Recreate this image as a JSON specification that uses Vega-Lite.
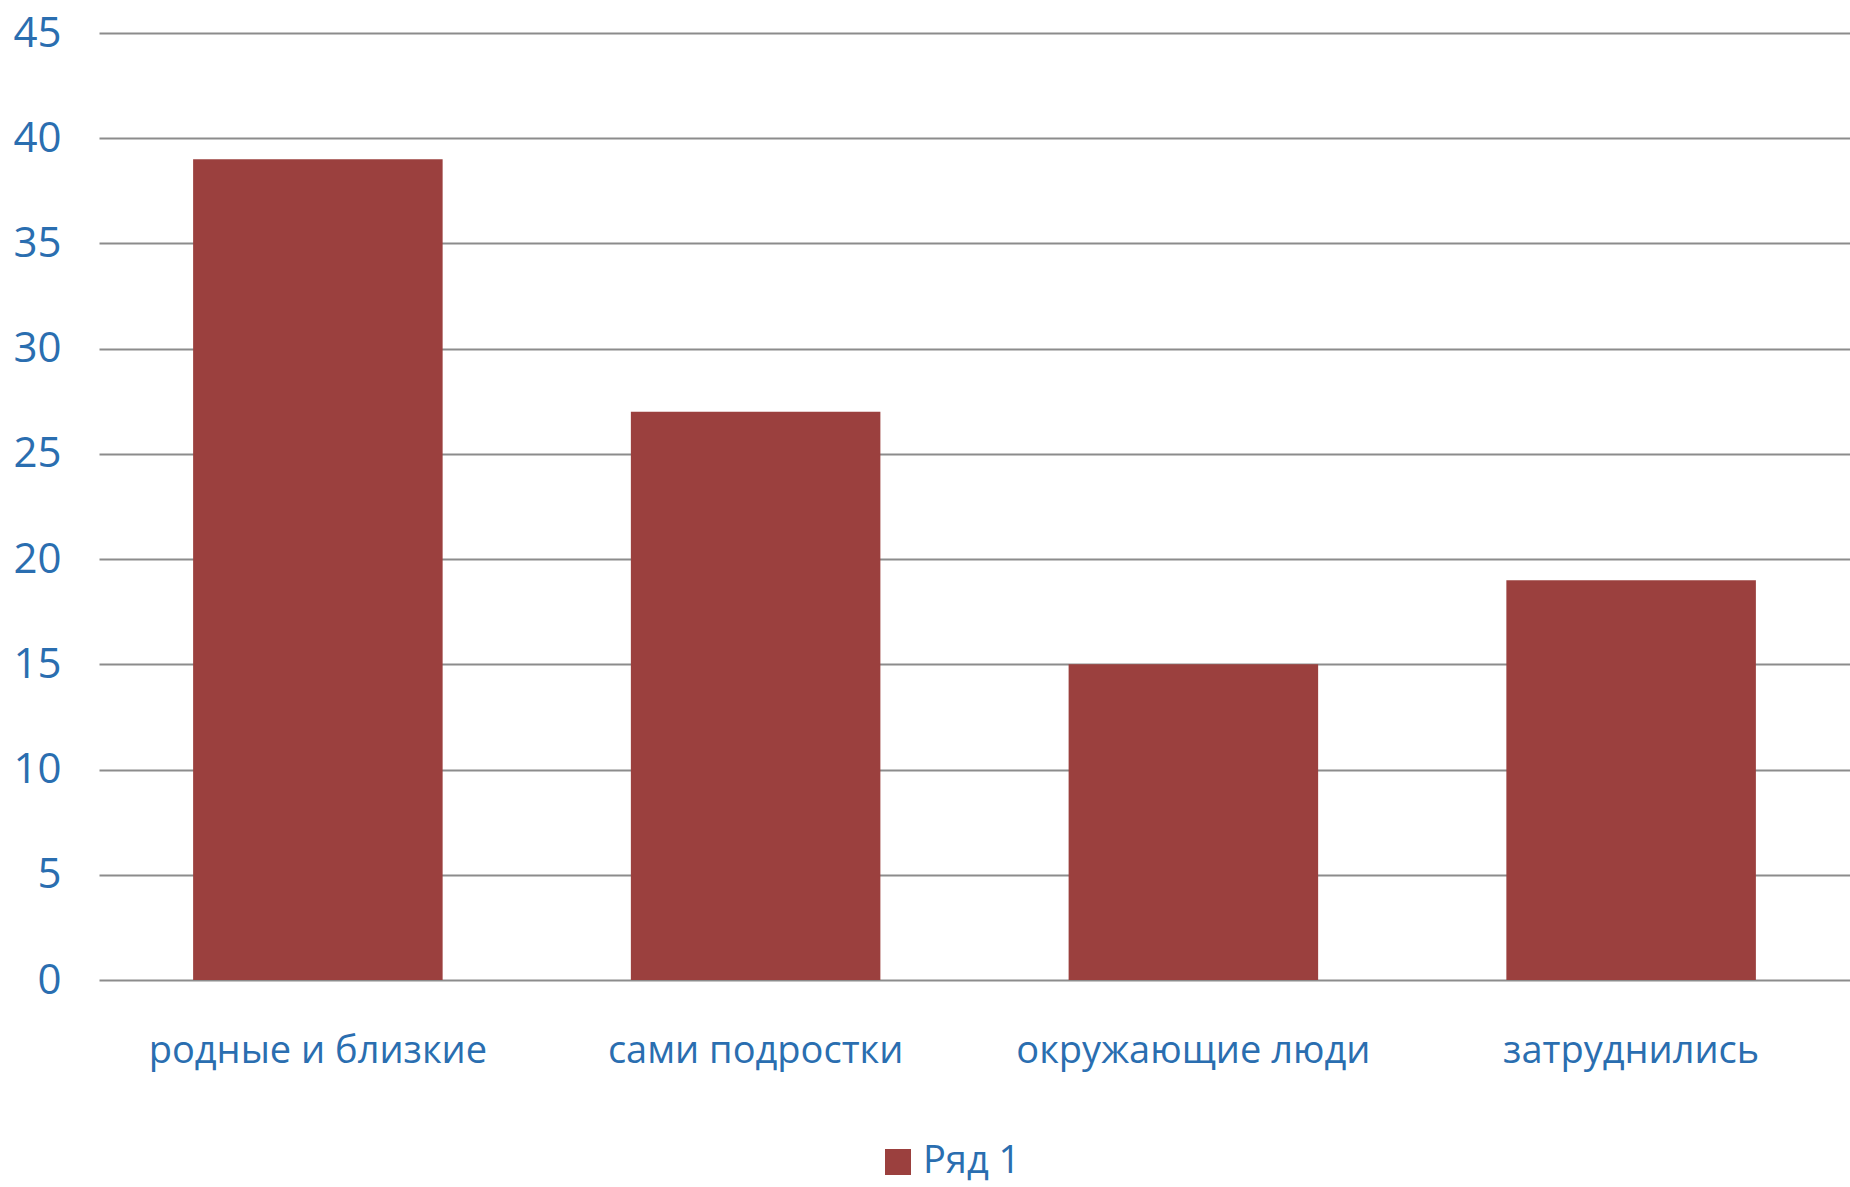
{
  "$schema": "https://vega.github.io/schema/vega-lite/v6.json",
  "width": 1751,
  "height": 947,
  "autosize": {"type": "none"},
  "padding": {"left": 99, "top": 33, "right": 0, "bottom": 207},
  "background": "white",
  "data": {
    "values": [
      {"category": "родные и близкие", "value": 39, "series": "Ряд 1"},
      {"category": "сами подростки", "value": 27, "series": "Ряд 1"},
      {"category": "окружающие люди", "value": 15, "series": "Ряд 1"},
      {"category": "затруднились", "value": 19, "series": "Ряд 1"}
    ]
  },
  "config": {
    "view": {"stroke": null},
    "font": "Open Sans"
  },
  "mark": {"type": "bar", "color": "#9B403E"},
  "encoding": {
    "x": {
      "field": "category",
      "type": "nominal",
      "sort": null,
      "scale": {"paddingInner": 0.43, "paddingOuter": 0.215},
      "axis": {
        "title": null,
        "labelAngle": 0,
        "domain": false,
        "ticks": false,
        "labelFontSize": 38,
        "labelColor": "#2A6EB0",
        "labelPadding": 52,
        "labelLimit": 0,
        "labelFont": "Open Sans"
      }
    },
    "y": {
      "field": "value",
      "type": "quantitative",
      "scale": {"domain": [0, 45]},
      "axis": {
        "title": null,
        "values": [0, 5, 10, 15, 20, 25, 30, 35, 40, 45],
        "domain": false,
        "ticks": false,
        "grid": true,
        "gridColor": "#8C8C8C",
        "gridWidth": 2,
        "labelFontSize": 42,
        "labelColor": "#2A6EB0",
        "labelPadding": 38,
        "labelFont": "Open Sans"
      }
    },
    "fill": {
      "field": "series",
      "type": "nominal",
      "scale": {"range": ["#9B403E"]},
      "legend": {
        "title": null,
        "orient": "none",
        "legendX": 780,
        "legendY": 1110,
        "padding": 0,
        "symbolType": "square",
        "symbolSize": 676,
        "symbolStrokeWidth": 0,
        "labelFontSize": 38,
        "labelColor": "#2A6EB0",
        "labelFont": "Open Sans",
        "labelOffset": 6
      }
    }
  }
}
